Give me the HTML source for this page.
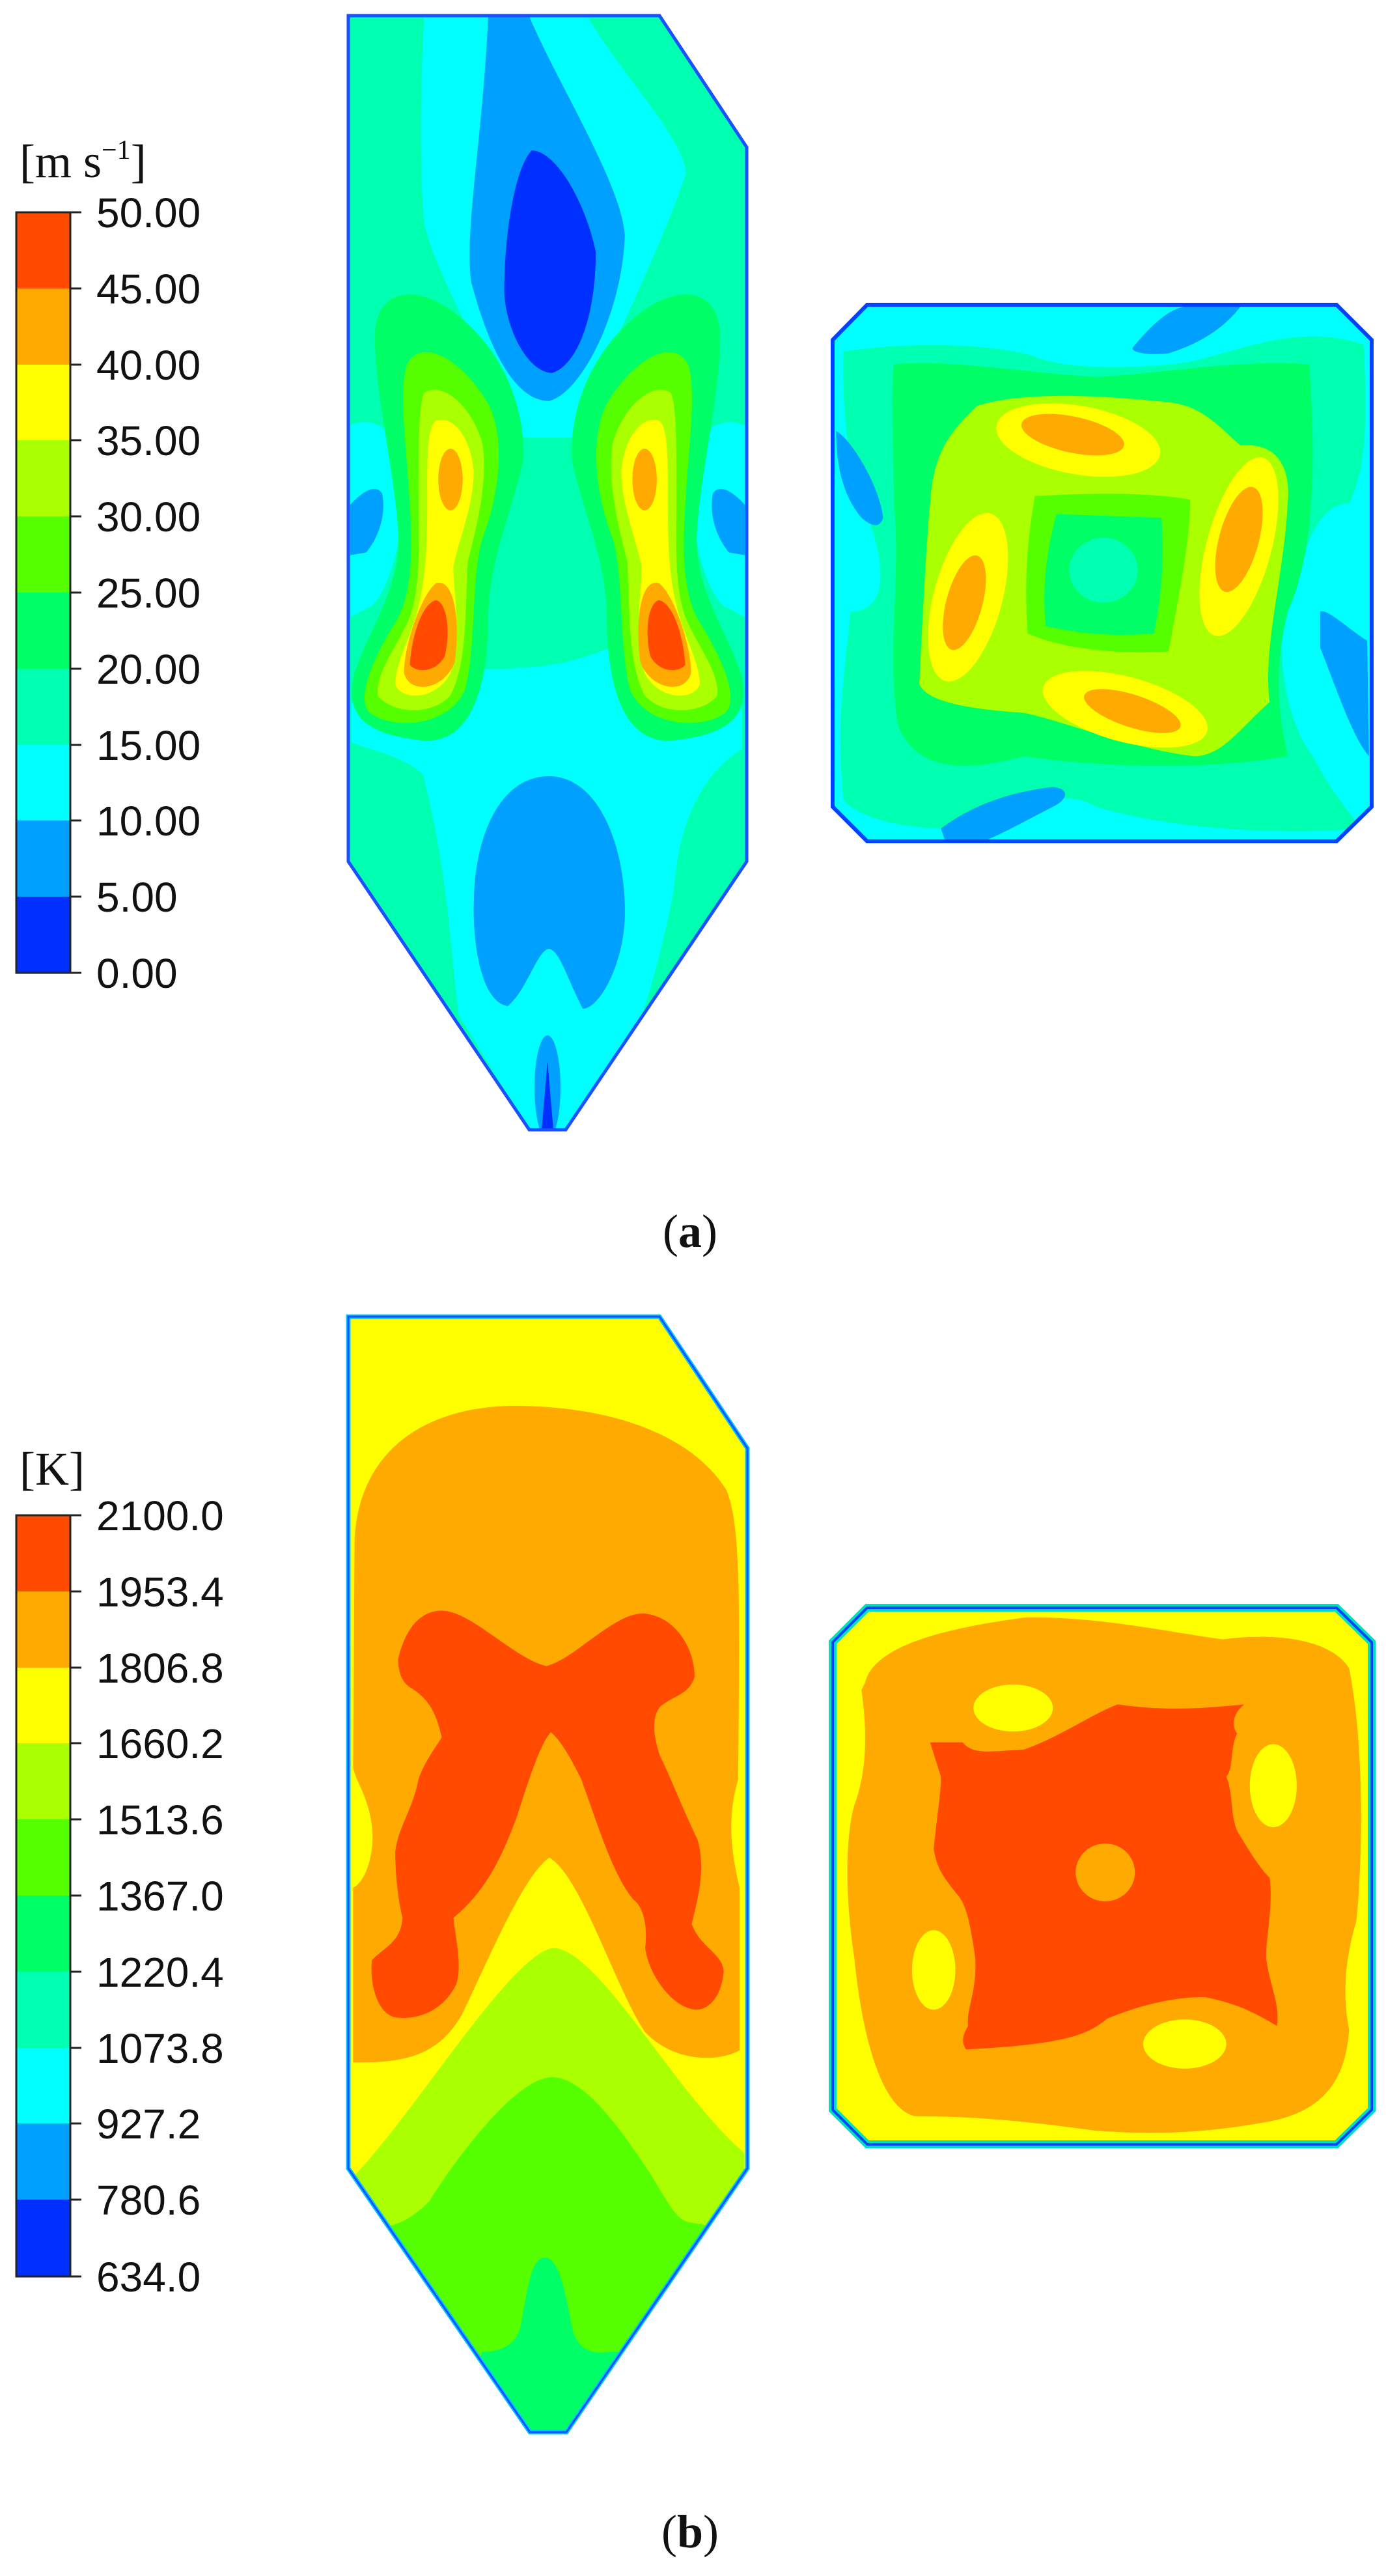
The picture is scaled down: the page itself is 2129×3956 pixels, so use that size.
<!DOCTYPE html>
<html><head><meta charset="utf-8"><style>
html,body{margin:0;padding:0;background:#fff;}
svg{display:block;}
.n{font-family:"Liberation Sans",Arial,sans-serif;font-size:64px;fill:#111;}
.u{font-family:"Liberation Serif","Times New Roman",serif;font-size:72px;fill:#111;}
</style></head><body>
<svg width="2129" height="3956" viewBox="0 0 2129 3956" xmlns="http://www.w3.org/2000/svg">
<defs>
<clipPath id="fa"><path d="M535,24 L1013,24 L1147,226 L1147,1323 L869,1735 L813,1735 L535,1323Z"/></clipPath>
<clipPath id="fb"><path d="M535,2022 L1013,2022 L1148,2224 L1148,3330 L870,3735 L814,3735 L535,3330Z"/></clipPath>
<clipPath id="sa"><path d="M1332,468 L2053,468 L2107,522 L2107,1239 L2053,1292 L1332,1292 L1279,1239 L1279,522Z"/></clipPath>
<clipPath id="sb"><path d="M1332,2469 L2053,2469 L2107,2522 L2107,3240 L2053,3293 L1332,3293 L1279,3240 L1279,2522Z"/></clipPath>
</defs>

<!-- Colorbar (a) -->
<text class="u" x="30" y="272">[m s<tspan font-size="42" dy="-28">−1</tspan><tspan dy="28">]</tspan></text>
<g>
<rect x="25" y="326" width="83" height="117" fill="#ff4a00"/>
<rect x="25" y="443" width="83" height="117" fill="#ffaa00"/>
<rect x="25" y="560" width="83" height="117" fill="#ffff00"/>
<rect x="25" y="676" width="83" height="117" fill="#aaff00"/>
<rect x="25" y="793" width="83" height="117" fill="#55ff00"/>
<rect x="25" y="910" width="83" height="117" fill="#00ff66"/>
<rect x="25" y="1027" width="83" height="117" fill="#00ffb0"/>
<rect x="25" y="1144" width="83" height="117" fill="#00ffff"/>
<rect x="25" y="1260" width="83" height="117" fill="#00a0ff"/>
<rect x="25" y="1377" width="83" height="117" fill="#0030ff"/>
<rect x="25" y="326" width="83" height="1168" fill="none" stroke="#222" stroke-width="3"/>
<g stroke="#222" stroke-width="3">
<line x1="108" y1="326" x2="125" y2="326"/><line x1="108" y1="443" x2="125" y2="443"/><line x1="108" y1="560" x2="125" y2="560"/><line x1="108" y1="676" x2="125" y2="676"/><line x1="108" y1="793" x2="125" y2="793"/><line x1="108" y1="910" x2="125" y2="910"/><line x1="108" y1="1027" x2="125" y2="1027"/><line x1="108" y1="1144" x2="125" y2="1144"/><line x1="108" y1="1260" x2="125" y2="1260"/><line x1="108" y1="1377" x2="125" y2="1377"/><line x1="108" y1="1494" x2="125" y2="1494"/>
</g>
<g class="n">
<text x="148" y="349">50.00</text><text x="148" y="466">45.00</text><text x="148" y="583">40.00</text><text x="148" y="699">35.00</text><text x="148" y="816">30.00</text><text x="148" y="933">25.00</text><text x="148" y="1050">20.00</text><text x="148" y="1167">15.00</text><text x="148" y="1283">10.00</text><text x="148" y="1400">5.00</text><text x="148" y="1517">0.00</text>
</g>
</g>

<!-- Furnace (a) -->
<g clip-path="url(#fa)">
<rect x="500" y="0" width="700" height="1800" fill="#00ffb0"/>
<g transform="translate(500,0) scale(0.4464,0.8613)">
<path fill="#00ffff" d="M340,28 L900,28 C1000,120 1240,250 1240,310 C1150,450 950,650 860,780 L680,780 C600,680 400,520 340,400 C320,300 330,100 340,28Z"/>
<path fill="#00a0ff" d="M560,28 L700,28 C800,150 1020,330 1030,420 C1020,560 880,700 770,715 C650,715 560,620 500,500 C480,400 540,250 560,28Z"/>
<path fill="#0030ff" d="M710,268 C800,270 900,370 930,450 C930,560 870,650 780,665 C700,665 620,590 615,520 C615,420 650,300 710,268Z"/>
</g>
<path fill="#00ffff" d="M640,1000 C700,1030 760,1030 800,1025 C850,1025 900,1010 950,990 C1000,1030 1060,1060 1140,1080 L1140,1150 C1060,1200 1040,1300 1036,1360 C1020,1450 990,1560 975,1580 L869,1735 L813,1735 L705,1560 C690,1450 690,1350 650,1190 C620,1160 560,1150 540,1140 L540,1080 C580,1060 620,1030 640,1000Z"/>
<g transform="translate(500,0) scale(0.4464,0.8613)">
<g id="lobe">
<path fill="#00ffff" d="M80,760 C150,740 250,760 270,830 C280,950 220,1050 160,1080 C120,1090 90,1100 80,1100Z"/>
<path fill="#00a0ff" d="M85,900 C120,880 170,860 195,880 C210,920 180,960 140,985 L85,990Z"/>
<path fill="#00ff66" d="M170,600 C170,520 300,500 450,560 C600,620 690,720 680,820 C650,900 560,1000 560,1100 C560,1200 520,1330 330,1320 C150,1310 60,1280 100,1200 C150,1120 260,1050 250,950 C240,850 170,700 170,600Z"/>
<path fill="#55ff00" d="M280,650 C330,600 470,640 560,720 C620,780 600,880 540,960 C500,1030 520,1150 480,1230 C420,1300 220,1300 150,1270 C100,1240 180,1160 240,1110 C300,1060 300,980 290,900 C280,800 250,700 280,650Z"/>
<path fill="#aaff00" d="M340,700 C400,680 500,720 540,790 C560,860 520,940 490,1000 C480,1080 490,1180 430,1240 C360,1280 220,1270 180,1240 C170,1200 250,1150 290,1100 C330,1040 320,960 320,880 C320,800 320,720 340,700Z"/>
<path fill="#ffff00" d="M380,750 C440,740 500,780 510,840 C510,900 460,960 440,1010 C440,1060 470,1130 430,1200 C380,1250 260,1250 240,1220 C240,1180 300,1130 320,1080 C350,1020 350,950 350,880 C350,820 350,760 380,750Z"/>
<ellipse cx="430" cy="855" rx="42" ry="55" fill="#ffaa00"/>
<path fill="#ffaa00" d="M270,1200 C270,1150 330,1060 380,1040 C440,1030 465,1100 445,1180 C410,1230 290,1240 270,1200Z"/>
<path fill="#ff4a00" d="M290,1185 C300,1120 340,1075 380,1070 C420,1075 430,1130 410,1170 C380,1200 310,1200 290,1185Z"/>
</g>
<use href="#lobe" transform="matrix(-1,0,0,1,1528,0)"/>
</g>
<path fill="#00a0ff" d="M843,1192 C920,1192 960,1300 960,1400 C960,1480 920,1550 895,1549 C870,1500 860,1460 843,1457 C825,1460 810,1520 780,1545 C740,1540 725,1450 728,1380 C730,1280 770,1192 843,1192Z"/>
<ellipse cx="841" cy="1670" rx="20" ry="80" fill="#00a0ff"/>
<path fill="#0030ff" d="M832,1735 L841,1630 L850,1735Z"/>
</g>
<path d="M535,24 L1013,24 L1147,226 L1147,1323 L869,1735 L813,1735 L535,1323Z" fill="none" stroke="#1a50ff" stroke-width="5"/>

<!-- Square (a) -->
<g clip-path="url(#sa)">
<rect x="1270" y="460" width="850" height="840" fill="#00ffff"/>
<g transform="translate(1240,440) scale(0.5549)">
<path fill="#00ffb0" d="M100,180 C300,150 500,160 620,190 C700,230 900,230 1050,210 C1200,180 1350,100 1540,160 C1550,350 1550,500 1500,600 C1420,600 1380,700 1320,900 C1300,1000 1320,1200 1400,1300 C1450,1400 1500,1450 1530,1500 C1300,1520 1000,1500 800,1440 C700,1380 600,1450 500,1500 C300,1510 150,1480 100,1420 C80,1200 100,1100 120,900 C250,900 200,700 150,600 C110,500 95,300 100,180Z"/>
<path fill="#00a0ff" d="M900,170 C950,110 1000,60 1050,55 L1200,55 C1150,120 1080,160 1000,185 C950,190 900,185 900,170Z"/>
<path fill="#00a0ff" d="M80,400 C120,420 200,550 210,640 C200,670 180,665 150,640 C100,580 80,500 80,400Z"/>
<path fill="#00a0ff" d="M1420,900 C1440,890 1500,950 1550,980 L1555,1300 C1510,1250 1460,1100 1420,1000Z"/>
<path fill="#00a0ff" d="M370,1500 C450,1440 550,1400 680,1385 C730,1390 720,1420 680,1440 C620,1470 550,1510 500,1530 L380,1530Z"/>
<path fill="#00ff66" d="M240,215 C400,200 600,240 800,250 C1000,240 1200,200 1390,215 C1400,400 1420,700 1330,900 C1280,1100 1320,1250 1330,1300 C1100,1340 800,1330 600,1300 C450,1340 300,1350 250,1210 C220,1000 260,800 240,600 C240,450 230,300 240,215Z"/>
<path fill="#aaff00" d="M470,330 C600,290 800,300 1000,320 C1100,330 1150,400 1200,440 C1300,430 1340,500 1330,600 C1320,800 1260,1000 1280,1150 C1200,1220 1150,1300 1070,1300 C900,1280 700,1200 600,1180 C450,1170 330,1150 310,1100 C320,900 330,700 340,600 C350,450 400,400 470,330Z"/>
<path fill="#55ff00" d="M630,580 C800,570 950,570 1060,590 C1060,700 1030,850 1000,1010 C850,1020 700,1000 610,960 C600,800 610,700 630,580Z"/>
<path fill="#00ff66" d="M690,630 L980,640 C990,750 980,860 960,960 C850,970 750,960 660,940 C650,840 660,740 690,630Z"/>
<ellipse cx="820" cy="785" rx="95" ry="90" fill="#00ffb0"/>
<ellipse cx="750" cy="425" rx="230" ry="95" transform="rotate(10 750 425)" fill="#ffff00"/>
<ellipse cx="735" cy="410" rx="145" ry="50" transform="rotate(12 735 410)" fill="#ffaa00"/>
<ellipse cx="1195" cy="720" rx="90" ry="255" transform="rotate(15 1195 720)" fill="#ffff00"/>
<ellipse cx="1195" cy="700" rx="55" ry="150" transform="rotate(15 1195 700)" fill="#ffaa00"/>
<ellipse cx="880" cy="1170" rx="235" ry="90" transform="rotate(15 880 1170)" fill="#ffff00"/>
<ellipse cx="900" cy="1175" rx="140" ry="45" transform="rotate(18 900 1175)" fill="#ffaa00"/>
<ellipse cx="445" cy="860" rx="95" ry="240" transform="rotate(15 445 860)" fill="#ffff00"/>
<ellipse cx="435" cy="875" rx="50" ry="135" transform="rotate(15 435 875)" fill="#ffaa00"/>
</g>
</g>
<path d="M1332,468 L2053,468 L2107,522 L2107,1239 L2053,1292 L1332,1292 L1279,1239 L1279,522Z" fill="none" stroke="#0040ff" stroke-width="6"/>

<text class="u" x="1060" y="1915" text-anchor="middle">(<tspan font-weight="bold">a</tspan>)</text>

<!-- Colorbar (b) -->
<text class="u" x="30" y="2280">[K]</text>
<g>
<rect x="25" y="2327" width="83" height="117" fill="#ff4a00"/>
<rect x="25" y="2444" width="83" height="117" fill="#ffaa00"/>
<rect x="25" y="2561" width="83" height="117" fill="#ffff00"/>
<rect x="25" y="2677" width="83" height="117" fill="#aaff00"/>
<rect x="25" y="2794" width="83" height="117" fill="#55ff00"/>
<rect x="25" y="2911" width="83" height="117" fill="#00ff66"/>
<rect x="25" y="3028" width="83" height="117" fill="#00ffb0"/>
<rect x="25" y="3145" width="83" height="117" fill="#00ffff"/>
<rect x="25" y="3261" width="83" height="117" fill="#00a0ff"/>
<rect x="25" y="3378" width="83" height="118" fill="#0030ff"/>
<rect x="25" y="2327" width="83" height="1169" fill="none" stroke="#222" stroke-width="3"/>
<g stroke="#222" stroke-width="3">
<line x1="108" y1="2327" x2="125" y2="2327"/><line x1="108" y1="2444" x2="125" y2="2444"/><line x1="108" y1="2561" x2="125" y2="2561"/><line x1="108" y1="2677" x2="125" y2="2677"/><line x1="108" y1="2794" x2="125" y2="2794"/><line x1="108" y1="2911" x2="125" y2="2911"/><line x1="108" y1="3028" x2="125" y2="3028"/><line x1="108" y1="3145" x2="125" y2="3145"/><line x1="108" y1="3261" x2="125" y2="3261"/><line x1="108" y1="3378" x2="125" y2="3378"/><line x1="108" y1="3496" x2="125" y2="3496"/>
</g>
<g class="n">
<text x="148" y="2350">2100.0</text><text x="148" y="2467">1953.4</text><text x="148" y="2584">1806.8</text><text x="148" y="2700">1660.2</text><text x="148" y="2817">1513.6</text><text x="148" y="2934">1367.0</text><text x="148" y="3051">1220.4</text><text x="148" y="3168">1073.8</text><text x="148" y="3284">927.2</text><text x="148" y="3401">780.6</text><text x="148" y="3519">634.0</text>
</g>
</g>

<!-- Furnace (b) -->
<g clip-path="url(#fb)">
<rect x="500" y="2000" width="700" height="1800" fill="#ffff00"/>
<g transform="translate(500,1900) scale(0.4464,0.925)">
<path fill="#ffaa00" d="M100,500 C120,340 380,280 650,280 C950,280 1250,320 1380,420 C1430,480 1425,600 1420,900 C1390,950 1385,1000 1425,1080 L1425,1350 C1350,1370 1200,1370 1100,1320 C1000,1250 880,1060 770,1030 C680,1060 560,1200 470,1290 C400,1350 300,1370 130,1370 L95,1370 L95,1080 C140,1070 170,1020 160,980 C150,930 100,900 95,880 Z"/>
<path fill="#ff4a00" d="M250,700 C280,640 340,620 400,620 C500,620 650,700 760,712 C860,700 1000,620 1100,625 C1200,630 1270,680 1270,730 C1250,760 1200,760 1150,780 C1120,800 1130,830 1150,860 C1190,900 1230,950 1280,1000 C1310,1050 1280,1100 1260,1140 C1290,1180 1370,1190 1370,1220 C1360,1270 1300,1290 1250,1280 C1180,1270 1110,1220 1100,1180 C1110,1140 1090,1110 1060,1100 C990,1060 940,980 880,900 C840,860 800,830 775,822 C740,840 700,900 660,960 C600,1040 540,1090 440,1130 C450,1170 470,1210 450,1240 C400,1290 300,1300 240,1295 C180,1290 150,1240 160,1200 C200,1180 260,1170 265,1130 C250,1100 240,1060 240,1020 C250,980 300,950 320,900 C340,870 390,840 400,830 C380,790 360,770 300,750 C260,740 250,720 250,700Z"/>
<path fill="#aaff00" d="M95,1560 C300,1460 650,1180 790,1180 C950,1190 1200,1420 1440,1520 L1440,2200 L95,2200Z"/>
</g>
<path fill="#55ff00" d="M848,3190 C900,3190 960,3280 1000,3340 C1030,3390 1040,3410 1060,3413 L1100,3420 L1100,3800 L580,3800 L590,3420 C620,3415 640,3400 660,3380 C690,3330 790,3190 848,3190Z"/>
<path fill="#00ff66" d="M837,3467 C860,3467 870,3530 880,3580 C890,3610 910,3615 935,3612 L1000,3612 L900,3800 L700,3800 L740,3612 C770,3612 795,3600 800,3570 C810,3520 815,3467 837,3467Z"/>
</g>
<path d="M535,2022 L1013,2022 L1148,2224 L1148,3330 L870,3735 L814,3735 L535,3330Z" fill="none" stroke="#00c8ff" stroke-width="7"/>
<path d="M535,2022 L1013,2022 L1148,2224 L1148,3330 L870,3735 L814,3735 L535,3330Z" fill="none" stroke="#1a50ff" stroke-width="3"/>

<!-- Square (b) -->
<g clip-path="url(#sb)">
<rect x="1270" y="2460" width="850" height="840" fill="#ffff00"/>
<g transform="translate(1240,2340) scale(0.5549)">
<path fill="#ffaa00" d="M160,440 C180,360 300,300 600,260 C800,255 1000,300 1150,320 C1300,300 1450,320 1500,400 C1540,600 1540,900 1520,1100 C1490,1200 1480,1300 1500,1400 C1490,1550 1420,1620 1300,1650 C1100,1690 950,1690 800,1680 C650,1660 500,1640 300,1640 C200,1620 150,1400 130,1200 C100,1000 110,850 130,780 C160,700 170,600 150,460Z"/>
<path fill="#ff4a00" d="M340,605 L430,605 C460,640 500,630 600,625 C700,590 800,520 860,500 C1000,520 1100,510 1210,500 C1170,530 1180,570 1190,580 C1170,620 1180,680 1160,700 C1180,750 1170,800 1190,850 C1220,900 1250,950 1280,980 C1290,1050 1270,1150 1270,1200 C1280,1280 1310,1330 1300,1390 C1250,1360 1200,1330 1100,1310 C1000,1310 900,1340 830,1370 C780,1410 730,1440 440,1455 C420,1430 440,1400 445,1390 C440,1340 470,1300 465,1200 C450,1100 440,1050 410,1020 C380,980 360,960 350,900 C360,800 370,750 370,700 Z"/>
<ellipse cx="825" cy="965" rx="82" ry="80" fill="#ffaa00"/>
<ellipse cx="570" cy="510" rx="110" ry="65" fill="#ffff00"/>
<ellipse cx="1290" cy="725" rx="65" ry="115" fill="#ffff00"/>
<ellipse cx="350" cy="1235" rx="60" ry="110" fill="#ffff00"/>
<ellipse cx="1045" cy="1440" rx="115" ry="68" fill="#ffff00"/>
</g>
</g>
<path d="M1332,2469 L2053,2469 L2107,2522 L2107,3240 L2053,3293 L1332,3293 L1279,3240 L1279,2522Z" fill="none" stroke="#00e0c0" stroke-width="12"/>
<path d="M1332,2469 L2053,2469 L2107,2522 L2107,3240 L2053,3293 L1332,3293 L1279,3240 L1279,2522Z" fill="none" stroke="#0040ff" stroke-width="4"/>

<text class="u" x="1060" y="3912" text-anchor="middle">(<tspan font-weight="bold">b</tspan>)</text>
</svg>
</body></html>
